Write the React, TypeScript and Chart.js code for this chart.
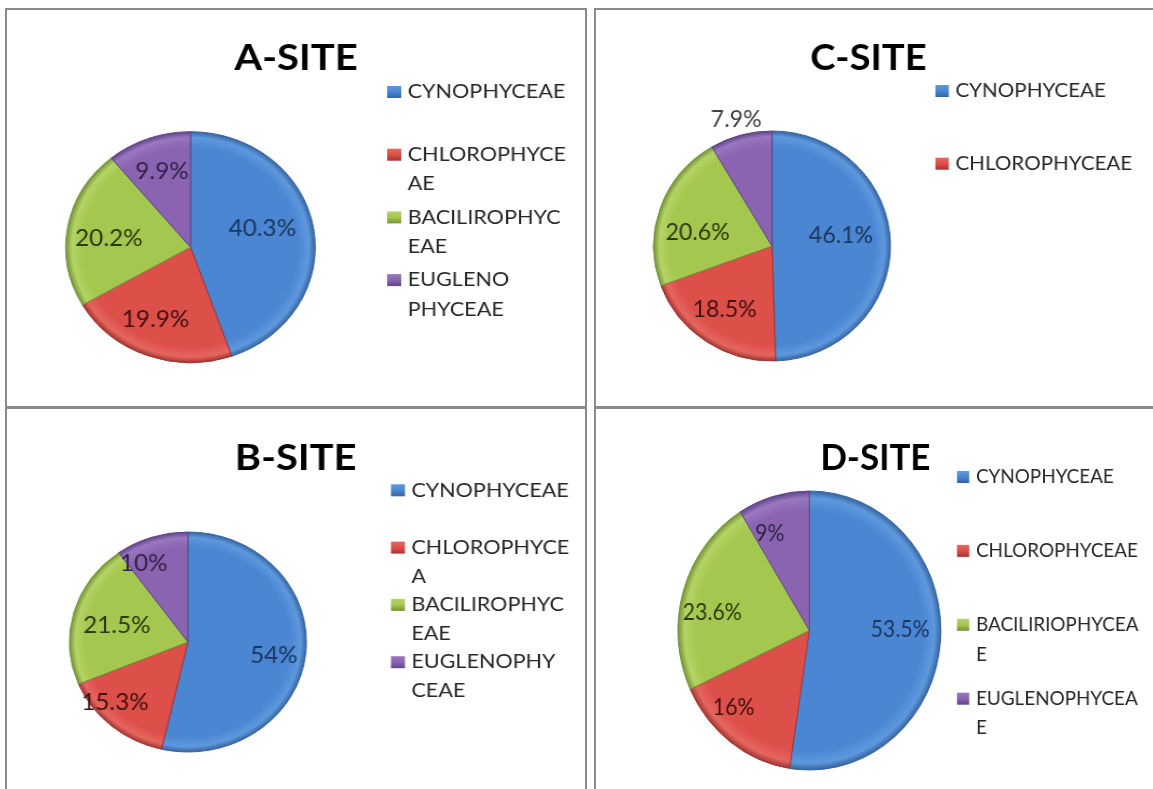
import React, { useEffect, useRef } from "react";
import { Chart, registerables } from "chart.js";

Chart.register(...registerables);

const FONT = '"Lato", "Carlito", "Open Sans", sans-serif';

// ---------- data ----------
const categoriesA = ["CYNOPHYCEAE", "CHLOROPHYCEAE", "BACILIROPHYCEAE", "EUGLENO PHYCEAE"];
const valuesA = [40.3, 19.9, 20.2, 9.9];
const legendA = [["CYNOPHYCEAE"], ["CHLOROPHYCE", "AE"], ["BACILIROPHYC", "EAE"], ["EUGLENO", "PHYCEAE"]];

const categoriesB = ["CYNOPHYCEAE", "CHLOROPHYCEA", "BACILIROPHYCEAE", "EUGLENOPHYCEAE"];
const valuesB = [54, 15.3, 21.5, 10];
const legendB = [["CYNOPHYCEAE"], ["CHLOROPHYCE", "A"], ["BACILIROPHYC", "EAE"], ["EUGLENOPHY", "CEAE"]];

const categoriesC = ["CYNOPHYCEAE", "CHLOROPHYCEAE", "BACILIROPHYCEAE", "EUGLENOPHYCEAE"];
const valuesC = [46.1, 18.5, 20.6, 7.9];
const legendC = [["CYNOPHYCEAE"], ["CHLOROPHYCEAE"], ["BACILIROPHYCEAE"], ["EUGLENOPHYCEAE"]];

const categoriesD = ["CYNOPHYCEAE", "CHLOROPHYCEAE", "BACILIRIOPHYCEAE", "EUGLENOPHYCEAE"];
const valuesD = [53.5, 16, 23.6, 9];
const legendD = [["CYNOPHYCEAE"], ["CHLOROPHYCEAE"], ["BACILIRIOPHYCEA", "E"], ["EUGLENOPHYCEA", "E"]];

// ---------- styles ----------
const SLICE_COLORS = [
  { fill: "#4A86D2", light: "#5E98DE", dark: "#36659F", text: "#1B365D" },
  { fill: "#DD4F49", light: "#E6665F", dark: "#A03532", text: "#3E1210" },
  { fill: "#A4C74F", light: "#B4D464", dark: "#74933A", text: "#2A3A10" },
  { fill: "#8A64B0", light: "#9A77BF", dark: "#604488", text: "#32224A" },
];

type Spec = {
  title: string;
  categories: string[];
  values: number[];
  legend: string[][];
  left: number;
  top: number;
  pageW: number;
  h: number;
  sx: number;
  cx: number;
  cy: number;
  r: number;
  titleX: number;
  titleY: number;
  markerX: number;
  textX: number;
  legendY: number;
  pitch: number;
  lineH: number;
  legendMax: number;
  labelRadius: number[];
  labelAngleShift: number[];
};

const panels: Spec[] = [
  {
    title: "A-SITE", categories: categoriesA, values: valuesA, legend: legendA,
    left: 7, top: 10, pageW: 577, h: 396, sx: 1.08,
    cx: 169.9, cy: 237.2, r: 115.5, titleX: 267.6, titleY: 60,
    markerX: 352, textX: 371, legendY: 81, pitch: 62.7, lineH: 29.5, legendMax: 4,
    labelRadius: [0.6, 0.68, 0.66, 0.7], labelAngleShift: [-6.5, 4, -3, 0.7],
  },
  {
    title: "C-SITE", categories: categoriesC, values: valuesC, legend: legendC,
    left: 596, top: 10, pageW: 557, h: 396, sx: 1.03,
    cx: 170.9, cy: 236, r: 115, titleX: 264.4, titleY: 60,
    markerX: 329.5, textX: 349, legendY: 80, pitch: 72.7, lineH: 29.5, legendMax: 2,
    labelRadius: [0.59, 0.68, 0.64, 1.15], labelAngleShift: [-8.4, 2, -8.6, 0],
  },
  {
    title: "B-SITE", categories: categoriesB, values: valuesB, legend: legendB,
    left: 7, top: 410, pageW: 577, h: 379, sx: 1.077,
    cx: 168, cy: 232, r: 110, titleX: 268, titleY: 60,
    markerX: 356.5, textX: 375.5, legendY: 79.3, pitch: 57.3, lineH: 29, legendMax: 4,
    labelRadius: [0.735, 0.82, 0.62, 0.81], labelAngleShift: [2.8, 8.5, -1.4, -9.6],
  },
  {
    title: "D-SITE", categories: categoriesD, values: valuesD, legend: legendD,
    left: 596, top: 410, pageW: 557, h: 379, sx: 0.943,
    cx: 226.3, cy: 220.5, r: 139.5, titleX: 296.3, titleY: 60,
    markerX: 382.8, textX: 403, legendY: 66, pitch: 73.9, lineH: 29.5, legendMax: 4,
    labelRadius: [0.69, 0.795, 0.75, 0.76], labelAngleShift: [-5.3, 9.6, -6.6, -7.5],
  },
];

const TITLE_SIZE = 37;
const LABEL_SIZE = 22.5;
const LEGEND_SIZE = 20;
const CAP = 0.72;

const excelPiePlugin = {
  id: "excelPie",
  afterDraw(chart: any, _args: any, opts: any) {
    const ctx: CanvasRenderingContext2D = chart.ctx;
    const meta = chart.getDatasetMeta(0);
    const values = chart.data.datasets[0].data as number[];
    ctx.save();

    // title
    ctx.font = `bold ${TITLE_SIZE}px ${FONT}`;
    ctx.fillStyle = "#000000";
    ctx.textAlign = "center";
    ctx.textBaseline = "alphabetic";
    ctx.fillText(opts.title, opts.titleX, opts.titleY);

    // data labels
    ctx.font = `${LABEL_SIZE}px ${FONT}`;
    meta.data.forEach((arc: any, i: number) => {
      const p = arc.getProps(["x", "y", "startAngle", "endAngle", "outerRadius"], true);
      const mid = (p.startAngle + p.endAngle) / 2 + (opts.labelAngleShift[i] * Math.PI) / 180;
      const f = opts.labelRadius[i];
      const x = p.x + Math.cos(mid) * p.outerRadius * f;
      const y = p.y + Math.sin(mid) * p.outerRadius * f;
      ctx.fillStyle = f > 1 ? "#404040" : SLICE_COLORS[i].text;
      ctx.textAlign = "center";
      ctx.fillText(`${values[i]}%`, x, y + (LABEL_SIZE * CAP) / 2);
    });

    // legend
    const lines: string[][] = opts.legend;
    ctx.font = `${LEGEND_SIZE}px ${FONT}`;
    ctx.textAlign = "left";
    for (let i = 0; i < Math.min(opts.legendMax, lines.length); i++) {
      const y0 = opts.legendY + i * opts.pitch;
      const mw = 13, mh = 12;
      const my = y0 - mh / 2 + 1;
      const g = ctx.createLinearGradient(0, my, 0, my + mh);
      g.addColorStop(0, SLICE_COLORS[i].light);
      g.addColorStop(0.5, SLICE_COLORS[i].fill);
      g.addColorStop(1, SLICE_COLORS[i].dark);
      ctx.fillStyle = g;
      ctx.fillRect(opts.markerX, my, mw, mh);
      ctx.fillStyle = "#262626";
      lines[i].forEach((t, k) => {
        ctx.fillText(t, opts.textX, y0 + k * opts.lineH + (LEGEND_SIZE * CAP) / 2);
      });
    }
    ctx.restore();
  },
};

function PiePanel({ spec }: { spec: Spec }) {
  const ref = useRef<HTMLCanvasElement>(null);
  const W = Math.round(spec.pageW / spec.sx);

  useEffect(() => {
    if (!ref.current) return;
    const chart = new Chart(ref.current, {
      type: "pie",
      data: {
        labels: spec.categories,
        datasets: [
          {
            data: spec.values,
            backgroundColor: (c: any) => {
              const col = SLICE_COLORS[c.dataIndex % 4];
              const ca = c.chart.chartArea;
              if (!ca) return col.fill;
              const x = (ca.left + ca.right) / 2;
              const y = (ca.top + ca.bottom) / 2;
              const g = c.chart.ctx.createRadialGradient(x, y, 0, x, y, spec.r);
              g.addColorStop(0, col.fill);
              g.addColorStop(0.86, col.fill);
              g.addColorStop(0.95, col.light);
              g.addColorStop(1, col.dark);
              return g;
            },
            borderColor: spec.values.map((_, i) => SLICE_COLORS[i].dark),
            borderWidth: 1,
            hoverOffset: 0,
            offset: 0,
          } as any,
        ],
      },
      options: {
        animation: false,
        responsive: true,
        maintainAspectRatio: false,
        events: [],
        radius: spec.r,
        layout: {
          padding: {
            left: spec.cx - spec.r,
            top: spec.cy - spec.r,
            right: W - spec.cx - spec.r,
            bottom: spec.h - spec.cy - spec.r,
          },
        },
        plugins: {
          legend: { display: false },
          title: { display: false },
          tooltip: { enabled: false },
          excelPie: {
            title: spec.title,
            titleX: spec.titleX,
            titleY: spec.titleY,
            legend: spec.legend,
            legendMax: spec.legendMax,
            markerX: spec.markerX,
            textX: spec.textX,
            legendY: spec.legendY,
            pitch: spec.pitch,
            lineH: spec.lineH,
            labelRadius: spec.labelRadius,
            labelAngleShift: spec.labelAngleShift,
          },
        } as any,
      } as any,
      plugins: [excelPiePlugin],
    });
    return () => chart.destroy();
  }, []);

  return (
    <div
      style={{
        position: "absolute",
        left: spec.left,
        top: spec.top,
        width: spec.pageW,
        height: spec.h,
        overflow: "hidden",
      }}
    >
      <div
        style={{
          position: "relative",
          width: W,
          height: spec.h,
          transform: `scaleX(${spec.sx})`,
          transformOrigin: "0 0",
        }}
      >
        <canvas ref={ref} />
      </div>
    </div>
  );
}

const borderBoxes = [
  { left: 5, top: 8, width: 582, height: 400 },
  { left: 594, top: 8, width: 600, height: 400 },
  { left: 5, top: 407, width: 582, height: 400 },
  { left: 594, top: 407, width: 600, height: 400 },
];

export default function App() {
  return (
    <div
      style={{
        position: "fixed",
        left: 0,
        top: 0,
        width: 1153,
        height: 789,
        overflow: "hidden",
        background: "#ffffff",
      }}
    >
      {panels.map((p) => (
        <PiePanel key={p.title} spec={p} />
      ))}
      {borderBoxes.map((b, i) => (
        <div
          key={i}
          style={{
            position: "absolute",
            left: b.left,
            top: b.top,
            width: b.width,
            height: b.height,
            boxSizing: "border-box",
            border: "2px solid #8a8a8a",
            pointerEvents: "none",
          }}
        />
      ))}
    </div>
  );
}
